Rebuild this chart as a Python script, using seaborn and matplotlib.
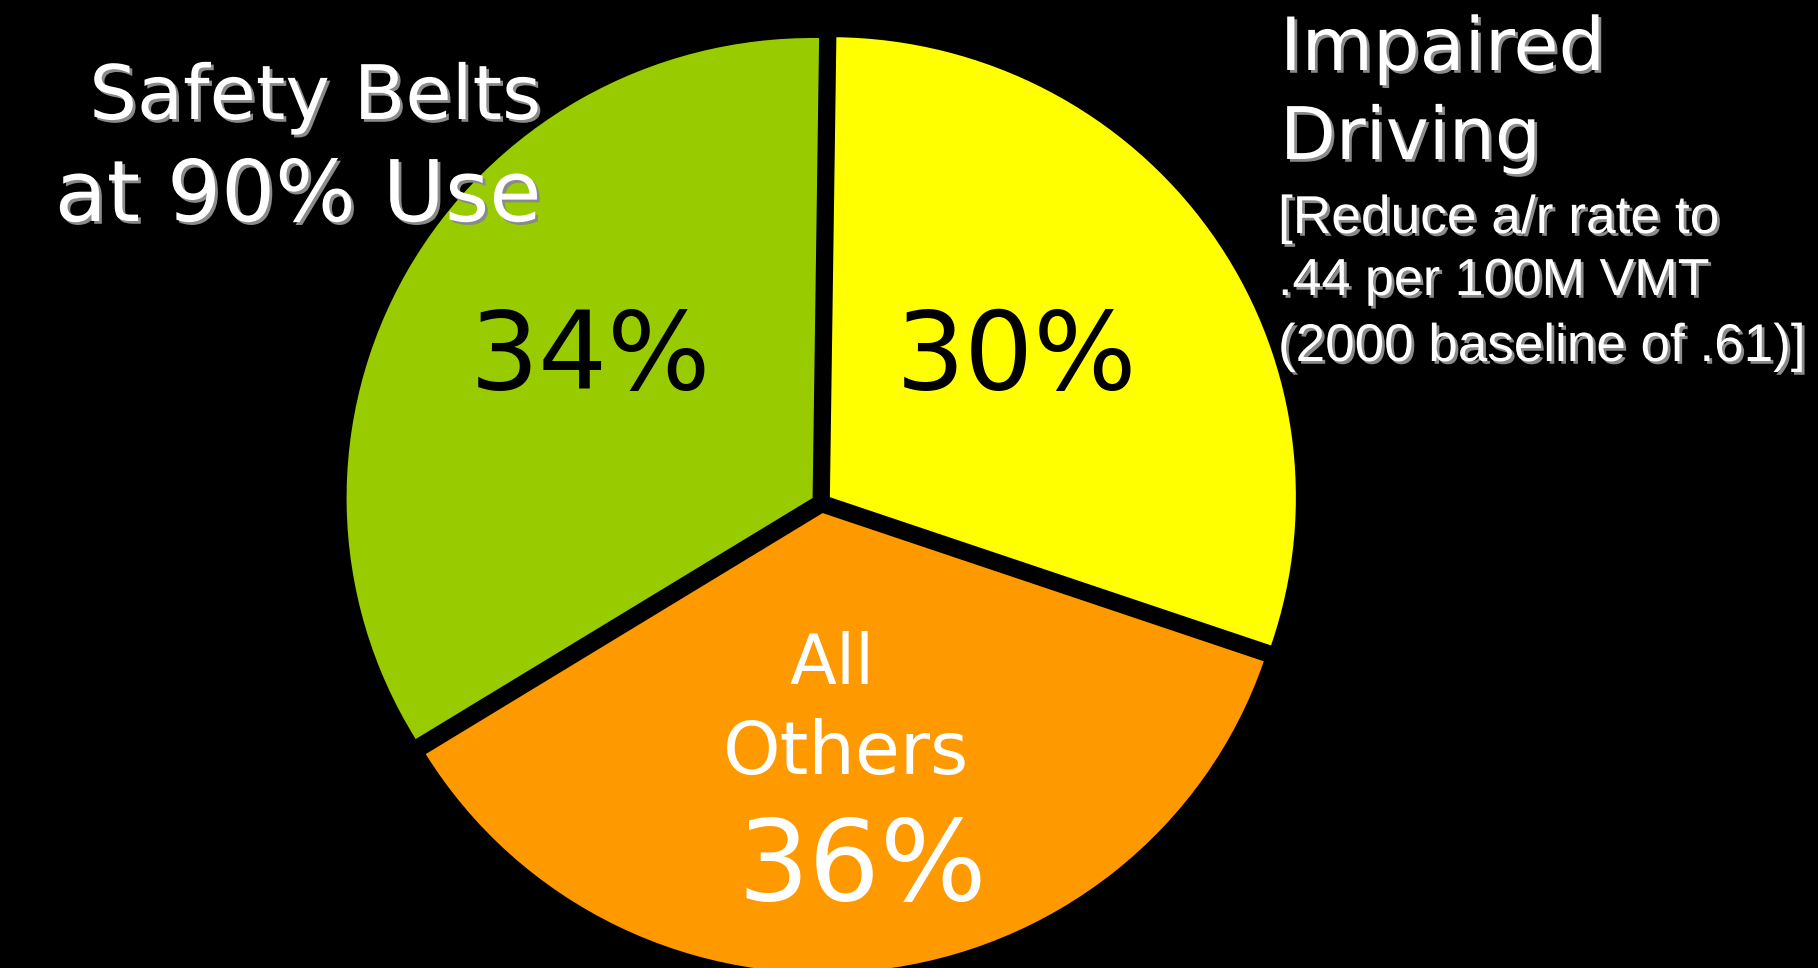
import matplotlib
matplotlib.use("Agg")
import matplotlib.pyplot as plt
import matplotlib.patheffects as pe
from matplotlib.transforms import IdentityTransform
import seaborn as sns

# ---- data ----
categories = ["Impaired Driving", "All Others", "Safety Belts"]
shares = [30, 36, 34]
slice_colors = ["#FFFF00", "#FF9900", "#99CC00"]
belt_title = ["Safety Belts", "at 90% Use"]
impaired_title = ["Impaired", "Driving"]
impaired_note = ["[Reduce a/r rate to", ".44 per 100M VMT", "(2000 baseline of .61)]"]
others_title = ["All", "Others"]

W, H = 1818, 968
sns.set_theme(style="white", rc={"figure.facecolor": "black", "axes.facecolor": "black",
                                 "savefig.facecolor": "black"})

fig = plt.figure(figsize=(W / 100, H / 100), dpi=100)
ax = fig.add_axes([0, 0, 1, 1])
ax.set_facecolor("black")

pal = sns.color_palette(slice_colors)
ax.pie(shares, colors=pal, startangle=89.2, counterclock=False,
       explode=[0.022] * len(shares), wedgeprops=dict(linewidth=0))

# pie center and radii in pixels
cx, cy, rx, ry = 821.5, 503.0, 466.0, 460.0
ax.set_xlim(-cx / rx, (W - cx) / rx)
ax.set_ylim((cy - H) / ry, cy / ry)
ax.set_aspect("auto")
ax.axis("off")

renderer = fig.canvas.get_renderer()
shadow = [pe.withSimplePatchShadow(offset=(2.0, -2.0), shadow_rgbFace="#8a8a8a", alpha=1.0)]


def put(text, x, y_base, width, ha="left", color="white", family="DejaVu Sans",
        shade=False, shrink=1.0):
    t = fig.text(x, H - y_base, text, transform=IdentityTransform(), ha=ha, va="baseline",
                 fontsize=50, color=color, family=family)
    w = t.get_window_extent(renderer).width
    t.set_fontsize(50 * width / w * shrink)
    if shade:
        t.set_path_effects(shadow)
    return t


# Safety belts title (right aligned)
put(belt_title[0], 541, 119, 492, ha="right", shade=True, shrink=0.92)
put(belt_title[1], 541, 221, 524, ha="right", shade=True, shrink=0.93)

# Impaired driving title
put(impaired_title[0], 1280, 70, 354, shade=True, shrink=0.92)
put(impaired_title[1], 1280, 159, 284, shade=True, shrink=0.92)
note_base = [233, 295, 361]
note_w = [442, 432, 528]
for s, b, w in zip(impaired_note, note_base, note_w):
    put(s, 1278, b, w, family="Liberation Sans", shade=True)

# percentage labels
pct = {c: f"{v}%" for c, v in zip(categories, shares)}
put(pct["Safety Belts"], 590, 389, 252, ha="center", color="black", shrink=0.96)
put(pct["Impaired Driving"], 1016, 389, 252, ha="center", color="black", shrink=0.96)

put(others_title[0], 832, 684, 100, ha="center", shrink=0.85)
put(others_title[1], 846, 774, 268, ha="center", shrink=0.92)
put(pct["All Others"], 862, 900, 250, ha="center")

fig.savefig("out.png", dpi=100, facecolor="black")
